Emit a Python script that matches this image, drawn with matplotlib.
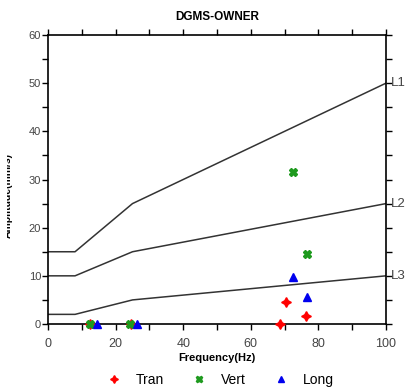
import matplotlib
matplotlib.use("Agg")
import matplotlib.pyplot as plt
from matplotlib.patches import Rectangle
from matplotlib.ticker import MultipleLocator

plt.rcParams["font.family"] = ["Liberation Sans", "DejaVu Sans"]

# DGMS limit curves (frequency Hz -> PPV)
limit_freq = [0, 8, 25, 100]
limit_l1 = [15, 15, 25, 50]
limit_l2 = [10, 10, 15, 25]
limit_l3 = [2, 2, 5, 10]
limit_names = ["L1", "L2", "L3"]

# measured points
tran_freq = [12.5, 24.5, 68.5, 70.5, 76.3]
tran_ppv = [0.0, 0.0, 0.0, 4.6, 1.6]
vert_freq = [12.4, 24.3, 72.5, 76.6]
vert_ppv = [0.0, 0.0, 31.5, 14.6]
long_freq = [14.5, 26.3, 72.5, 76.6]
long_ppv = [0.0, 0.0, 9.8, 5.6]

fig = plt.figure(figsize=(4.12, 3.9), dpi=100)
ax = fig.add_axes([48 / 412, 1 - 324 / 390, 338 / 412, 289 / 390])

for ys in (limit_l1, limit_l2, limit_l3):
    ax.plot(limit_freq, ys, color="#333333", lw=1.1, zorder=2)

ax.plot(tran_freq, tran_ppv, ls="none", marker=(4, 1, 0), ms=7, color="red",
        label="Tran", zorder=3, clip_on=False)
ax.plot(vert_freq, vert_ppv, ls="none", marker="X", ms=6, color="#1e9a1e",
        label="Vert", zorder=3, clip_on=False)
ax.plot(long_freq, long_ppv, ls="none", marker="^", ms=6, color="#0000ee",
        label="Long", zorder=3, clip_on=False)

ax.set_xlim(0, 100)
ax.set_ylim(0, 60)
ax.xaxis.set_major_locator(MultipleLocator(20))
ax.xaxis.set_minor_locator(MultipleLocator(10))
ax.yaxis.set_major_locator(MultipleLocator(10))
ax.yaxis.set_minor_locator(MultipleLocator(5))
ax.tick_params(which="both", direction="out", top=True, right=True,
               labelsize=8, labelcolor="#444444", width=1)
ax.tick_params(which="major", length=4)
ax.tick_params(which="minor", length=4)
ax.tick_params(axis="x", labelsize=9, pad=6)
ax.tick_params(axis="y", labelright=False, pad=1)
for sp in ax.spines.values():
    sp.set_linewidth(1.2)

for name, ys in zip(limit_names, (limit_l1, limit_l2, limit_l3)):
    ax.text(101.5, ys[-1], name, va="center", ha="left", fontsize=9.5,
            color="#444444")

ax.set_title("DGMS-OWNER", fontsize=8.5, fontweight="bold", pad=11)
ax.set_xlabel("Frequency(Hz)", fontsize=8, fontweight="bold", labelpad=2)

# y label is cut off at the left edge in the original
fig.text(8 / 412, 1 - 196 / 390, "Amplitude(mm/s)", rotation=90,
         fontsize=7.5, fontweight="bold", ha="center", va="center")
fig.patches.append(Rectangle((0, 0), 7.5 / 412, 1, transform=fig.transFigure,
                             facecolor="white", edgecolor="none", zorder=10))

ax.legend(loc="upper center", bbox_to_anchor=(0.5, -0.125), ncol=3,
          frameon=False, fontsize=10, handletextpad=0.6, columnspacing=1.5,
          markerscale=0.8)

fig.savefig("out.png", dpi=100)
